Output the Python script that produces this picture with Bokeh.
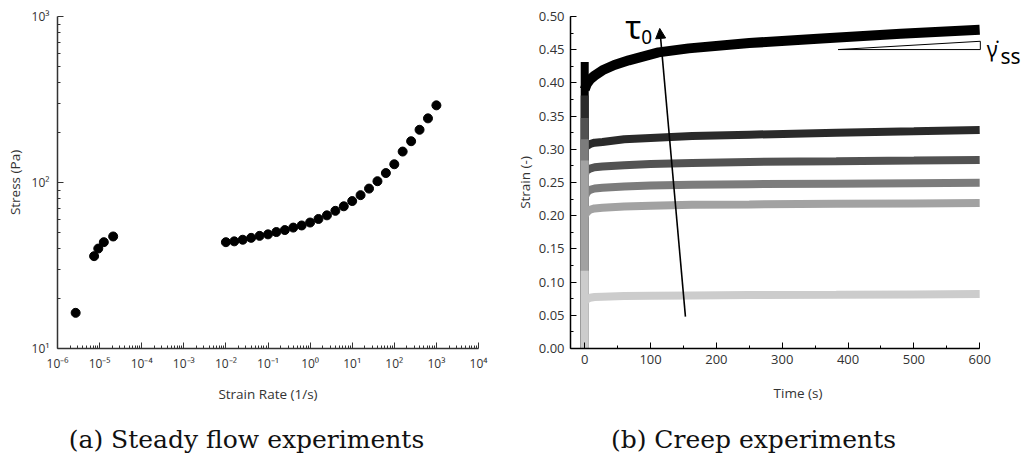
from bokeh.plotting import figure
from bokeh.layouts import row, column
from bokeh.embed import file_html
from bokeh.resources import INLINE
from bokeh.models import (FixedTicker, CustomJSTickFormatter, SingleIntervalTicker,
                          NumeralTickFormatter, Arrow, NormalHead)
from bokeh.core.properties import value

# ---------------- data: (a) steady flow ----------------
rate_low = [2.7e-6, 7.4e-6, 9.3e-6, 1.26e-5, 2.1e-5]
stress_low = [16.4, 36.0, 40.0, 43.7, 47.3]
rate_high = [0.01, 0.0158, 0.0251, 0.0398, 0.0631, 0.1, 0.158, 0.251, 0.398, 0.631,
             1.0, 1.58, 2.51, 3.98, 6.31, 10.0, 15.8, 25.1, 39.8, 63.1,
             100.0, 158.0, 251.0, 398.0, 631.0, 1000.0]
stress_high = [43.7, 44.2, 45.2, 46.4, 47.7, 48.7, 50.3, 51.7, 53.5, 55.1,
               57.4, 60.3, 63.4, 67.5, 71.9, 77.3, 83.9, 91.9, 101.8, 114.0,
               128.8, 153.6, 177.3, 207.8, 243.4, 291.6]
x_major = [1e-6, 1e-5, 1e-4, 1e-3, 1e-2, 1e-1, 1e0, 1e1, 1e2, 1e3, 1e4]
y_major = [10, 100, 1000]

# ---------------- data: (b) creep ----------------
time_black = [0, 3, 8, 15, 27, 45, 67, 112, 158, 250, 360, 480, 600]
creep_black = [0.390, 0.398, 0.405, 0.411, 0.419, 0.427, 0.434, 0.446, 0.452, 0.460, 0.467, 0.474, 0.480]
time_s = [0, 3, 8, 15, 27, 60, 100, 163, 250, 382, 500, 600]
creep_c2 = [0.300, 0.305, 0.308, 0.310, 0.311, 0.315, 0.317, 0.320, 0.322, 0.325, 0.327, 0.329]
creep_c3 = [0.262, 0.268, 0.271, 0.273, 0.274, 0.276, 0.278, 0.2795, 0.281, 0.282, 0.283, 0.284]
creep_c4 = [0.228, 0.235, 0.239, 0.241, 0.242, 0.244, 0.2455, 0.2467, 0.2475, 0.2483, 0.249, 0.2495]
creep_c5 = [0.200, 0.205, 0.209, 0.211, 0.212, 0.214, 0.215, 0.2165, 0.217, 0.218, 0.2185, 0.219]
creep_c6 = [0.071, 0.074, 0.0765, 0.0775, 0.078, 0.079, 0.0795, 0.080, 0.0805, 0.081, 0.0815, 0.082]
creep_times = [time_black, time_s, time_s, time_s, time_s, time_s]
creep_series = [creep_black, creep_c2, creep_c3, creep_c4, creep_c5, creep_c6]
jump_strain = [0.4315, 0.381, 0.347, 0.315, 0.283, 0.117]
creep_colors = ["#000000", "#2a2a2a", "#525252", "#7c7c7c", "#a2a2a2", "#cccccc"]
creep_widths = [10, 8, 8, 8, 8, 8]

arrow_t = [153, 114]
arrow_strain = [0.048, 0.482]
tri_t = [385, 601, 601]
tri_strain = [0.4502, 0.4502, 0.4627]

# annotation anchors (data units of panel b)
ann_texts = ["τ", "0", "γ\u0307", "ss"]
ann_t = [61.6, 85.8, 610.6, 631.7]
ann_strain = [0.4849, 0.4697, 0.4518, 0.4403]
ann_sizes = ["33px", "19px", "21px", "21px"]

captions = ["(a) Steady flow experiments", "(b) Creep experiments"]
caption_x = [246, 753]
caption_y = [18, 18]

TICK_FONT = "Open Sans"
PLOT_H = 410

# ---------------- figure (a) ----------------
p1 = figure(width=512, height=PLOT_H, x_axis_type="log", y_axis_type="log",
            x_range=(1e-6, 1e4), y_range=(10, 1000),
            output_backend="svg", toolbar_location=None,
            min_border_left=57, min_border_right=34, min_border_top=10,
            min_border_bottom=PLOT_H - 348)
p1.outline_line_color = None
p1.grid.visible = False

p1.scatter(rate_low, stress_low, size=9, color="black")
p1.scatter(rate_high, stress_high, size=9, color="black")

minor_x = [m * d for d in x_major[:-1] for m in range(2, 10)]
minor_y = [m * d for d in y_major[:-1] for m in range(2, 10)]
p1.xaxis.ticker = FixedTicker(ticks=x_major, minor_ticks=minor_x)
p1.yaxis.ticker = FixedTicker(ticks=y_major, minor_ticks=minor_y)
sup_code = """
const sup = {'-':'\u207b','0':'\u2070','1':'\u00b9','2':'\u00b2','3':'\u00b3','4':'\u2074',
             '5':'\u2075','6':'\u2076','7':'\u2077','8':'\u2078','9':'\u2079'};
const e = Math.round(Math.log10(tick));
return '10' + String(e).split('').map(c => sup[c]).join('');
"""
p1.xaxis.formatter = CustomJSTickFormatter(code=sup_code)
p1.yaxis.formatter = CustomJSTickFormatter(code=sup_code)
p1.xaxis.axis_label = "Strain Rate (1/s)"
p1.yaxis.axis_label = "Stress (Pa)"

for ax in (p1.xaxis[0], p1.yaxis[0]):
    ax.axis_line_color = "#333333"
    ax.axis_line_width = 1.5
    ax.major_tick_line_color = "#333333"
    ax.minor_tick_line_color = "#333333"
    ax.major_tick_in = 6
    ax.major_tick_out = 0
    ax.minor_tick_in = 3
    ax.minor_tick_out = 0
    ax.major_label_text_font = TICK_FONT
    ax.major_label_text_font_size = "12px"
    ax.major_label_text_color = "#333333"
    ax.axis_label_text_font = TICK_FONT
    ax.axis_label_text_font_size = "13.5px"
    ax.axis_label_text_font_style = "normal"
    ax.axis_label_text_color = "#333333"
p1.xaxis.major_label_standoff = 6
p1.xaxis.axis_label_standoff = 10
p1.yaxis.major_label_standoff = 8
p1.yaxis.axis_label_standoff = 5

# ---------------- figure (b) ----------------
p2 = figure(width=513, height=PLOT_H, x_range=(-21.6, 669.6), y_range=(0, 0.5),
            output_backend="svg", toolbar_location=None,
            min_border_left=56, min_border_right=0, min_border_top=16,
            min_border_bottom=PLOT_H - 348)
p2.outline_line_color = None
p2.grid.visible = False

for t, s, top, c, w in zip(creep_times, creep_series, jump_strain, creep_colors, creep_widths):
    p2.line(t, s, line_width=w, color=c)
    p2.segment(x0=[0], y0=[0], x1=[0], y1=[top], line_width=8, color=c)

p2.patch(tri_t, tri_strain, fill_color="white", line_color="black", line_width=1)
p2.add_layout(Arrow(end=NormalHead(size=10, fill_color="black", line_color="black"),
                    x_start=arrow_t[0], y_start=arrow_strain[0],
                    x_end=arrow_t[1], y_end=arrow_strain[1],
                    line_width=1.6, line_color="black"))

p2.text(x=ann_t, y=ann_strain, text=ann_texts, text_font=value("Noto Sans"),
        text_font_size=ann_sizes, text_baseline="alphabetic", text_align="left",
        text_color="black")

p2.xaxis.ticker = SingleIntervalTicker(interval=100, num_minor_ticks=2)
p2.yaxis.ticker = SingleIntervalTicker(interval=0.05, num_minor_ticks=2)
p2.xaxis.bounds = (-21.6, 600)
p2.yaxis.formatter = NumeralTickFormatter(format="0.00")
p2.xaxis.axis_label = "Time (s)"
p2.yaxis.axis_label = "Strain (-)"
for ax in (p2.xaxis[0], p2.yaxis[0]):
    ax.axis_line_color = "black"
    ax.axis_line_width = 1.5
    ax.major_tick_line_color = "black"
    ax.minor_tick_line_color = "black"
    ax.major_tick_in = 6
    ax.major_tick_out = 0
    ax.minor_tick_in = 3
    ax.minor_tick_out = 0
    ax.major_label_text_font = TICK_FONT
    ax.major_label_text_font_size = "13px"
    ax.major_label_text_color = "#333333"
    ax.axis_label_text_font = TICK_FONT
    ax.axis_label_text_font_size = "13.5px"
    ax.axis_label_text_font_style = "normal"
    ax.axis_label_text_color = "#333333"
p2.xaxis.major_label_standoff = 6
p2.xaxis.axis_label_standoff = 17
p2.yaxis.major_label_standoff = 6
p2.yaxis.axis_label_standoff = 2

# ---------------- captions ----------------
p3 = figure(width=1025, height=457 - PLOT_H, x_range=(0, 1025), y_range=(0, 457 - PLOT_H),
            output_backend="svg", toolbar_location=None, min_border=0,
            x_axis_location=None, y_axis_location=None)
p3.outline_line_color = None
p3.grid.visible = False
p3.text(x=caption_x, y=caption_y, text=captions, text_font=value("DejaVu Serif"),
        text_font_size="25px", text_align="center", text_baseline="alphabetic",
        text_color="#111111")

layout = column(row(p1, p2), p3)
open("out.html", "w").write(file_html(layout, INLINE))
